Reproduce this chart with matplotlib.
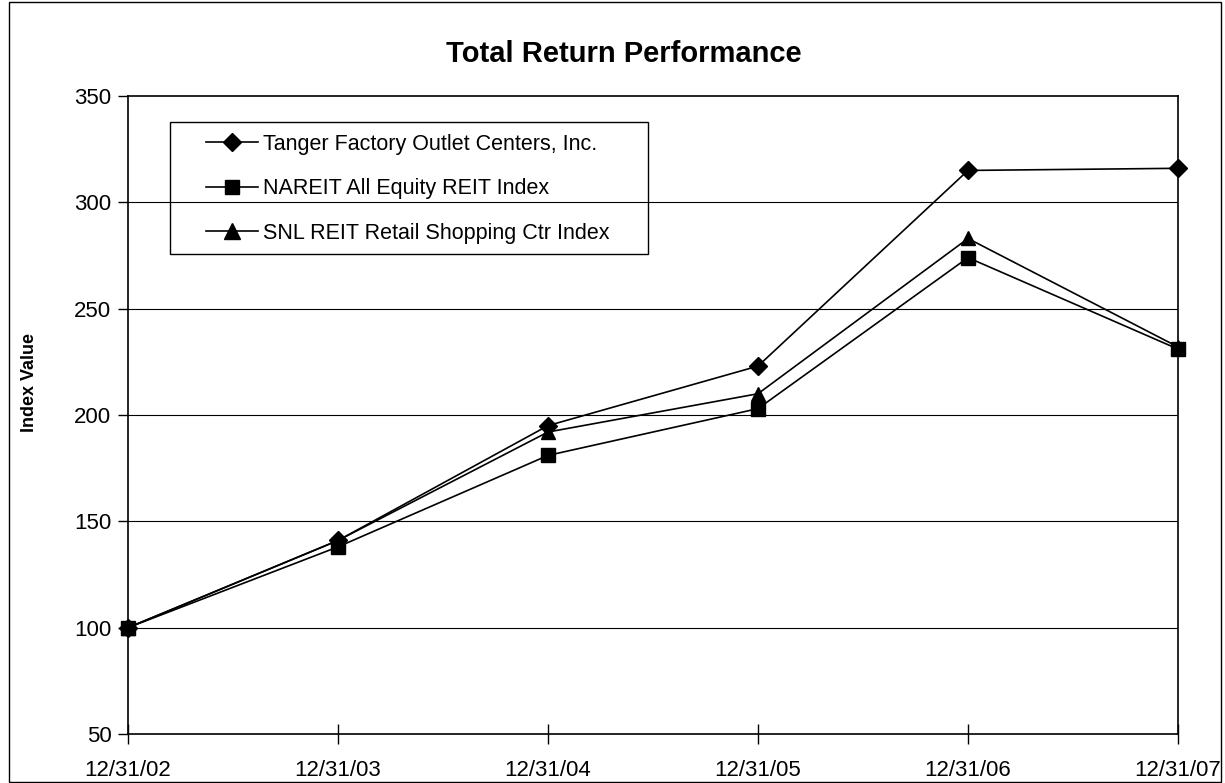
import matplotlib
matplotlib.use("Agg")
import matplotlib.pyplot as plt
from matplotlib.patches import Rectangle
from matplotlib.lines import Line2D

plt.rcParams['font.family'] = ['Liberation Sans', 'DejaVu Sans']

dates = ["12/31/02", "12/31/03", "12/31/04", "12/31/05", "12/31/06", "12/31/07"]
tanger = [100, 141, 195, 223, 315, 316]
nareit = [100, 138, 181, 203, 274, 231]
snl = [100, 141, 192, 210, 283, 232]
series_names = ["Tanger Factory Outlet Centers, Inc.",
                "NAREIT All Equity REIT Index",
                "SNL REIT Retail Shopping Ctr Index"]

W, H = 1225, 783
fig = plt.figure(figsize=(W / 100, H / 100), dpi=100)
ax = fig.add_axes([128 / W, 1 - 734 / H, (1178 - 128) / W, (734 - 96) / H])

x = list(range(len(dates)))
styles = [("D", 8.8), ("s", 10), ("^", 10.5)]
handles = []
for vals, name, (mk, ms) in zip([tanger, nareit, snl], series_names, styles):
    ax.plot(x, vals, color="black", lw=1.2, marker=mk, markersize=ms,
            markerfacecolor="black", markeredgecolor="black", clip_on=False, zorder=3)
    handles.append(Line2D([], [], color="black", lw=1.2, marker=mk, markersize=ms * 1.05,
                          markerfacecolor="black", markeredgecolor="black"))

ax.set_xlim(0, len(dates) - 1)
ax.set_ylim(50, 350)
ax.set_xticks(x)
ax.set_xticklabels(dates, fontsize=16)
ax.set_yticks(range(50, 351, 50))
ax.tick_params(axis="y", labelsize=16, direction="out", length=7, width=1, pad=5)
ax.tick_params(axis="x", direction="inout", length=14, width=1, pad=12)
for y in range(100, 301, 50):
    ax.axhline(y, color="black", lw=0.8, zorder=1)
for sp in ax.spines.values():
    sp.set_linewidth(1.2)
    sp.set_color("black")

fig.text(624 / W, 1 - 54 / H, "Total Return Performance", ha="center", va="center",
         fontsize=21, fontweight="bold")
fig.text(30 / W, 1 - 382 / H, "Index Value", ha="center", va="center",
         rotation=90, fontsize=13, fontweight="bold")

# legend box drawn by hand, entries via legend without frame
fig.patches.append(Rectangle((170 / W, 1 - 254 / H), (648 - 170) / W, (254 - 122) / H,
                             transform=fig.transFigure, fill=False, edgecolor="black",
                             lw=1.0, zorder=5))
fig.legend(handles, series_names, loc="upper left",
           bbox_to_anchor=(206 / W, 1 - 134 / H), frameon=False, fontsize=15.5,
           handlelength=2.42, handletextpad=0.23, labelspacing=1.08, borderpad=0,
           borderaxespad=0)

# figure border
fig.patches.append(Rectangle((9 / W, 1 / H), (1221 - 9) / W, (781 - 1) / H,
                             transform=fig.transFigure, fill=False, edgecolor="black", lw=1.0))

fig.savefig("out.png", dpi=100)
